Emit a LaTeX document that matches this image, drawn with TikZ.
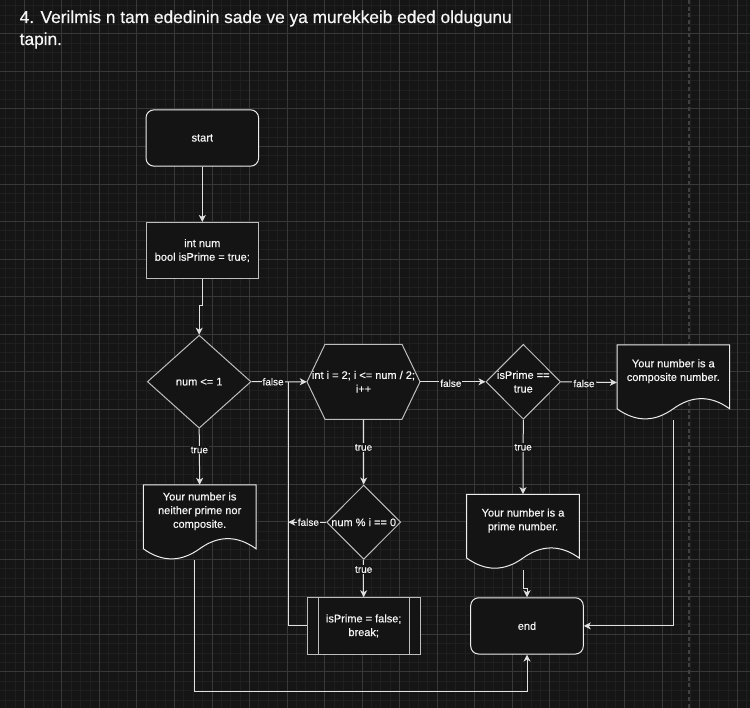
\documentclass[tikz,border=0pt]{standalone}
\usepackage{fontspec}
\setmainfont{Liberation Sans}
\newfontfamily\heavyish[FakeBold=0.45]{Liberation Sans}
\usetikzlibrary{arrows.meta,shapes.geometric,calc}
\definecolor{bg}{HTML}{151515}
\definecolor{minorgrid}{HTML}{1F1F1F}
\definecolor{majorgrid}{HTML}{383838}
\definecolor{dashcol}{HTML}{404040}
\definecolor{shapefill}{HTML}{141414}
\definecolor{strokeW}{HTML}{EDEDED}
\definecolor{strokeG}{HTML}{BDBDBD}
\definecolor{edgecol}{HTML}{E0E0E0}
\definecolor{txt}{HTML}{F6F6F6}
\newcommand\nodefont{\heavyish\fontsize{11}{13.7}\selectfont}
\newcommand\edgefont{\heavyish\fontsize{10}{12}\selectfont}
% document outline: x y w h (pixel units, y downward)
\newcommand\docoutline[4]{%
  \draw[docline] (#1,#2) -- ({#1+#3},#2) -- ({#1+#3},{#2+0.85*#4})
    .. controls ({#1+0.8333*#3},{#2+0.67*#4}) and ({#1+0.6667*#3},{#2+0.67*#4}) .. ({#1+0.5*#3},{#2+0.85*#4})
    .. controls ({#1+0.3333*#3},{#2+1.03*#4}) and ({#1+0.1667*#3},{#2+1.03*#4}) .. (#1,{#2+0.85*#4})
    -- cycle;}
\begin{document}
\begin{tikzpicture}[x=1pt,y=-1pt,
  shapebase/.style={fill=shapefill, line width=1pt, text=txt, font=\nodefont, align=center, inner sep=0pt},
  term/.style={shapebase, draw=strokeW, rounded corners=8pt, minimum width=112.6pt, minimum height=56.3pt},
  procbox/.style={shapebase, draw=strokeG, minimum width=112.6pt, minimum height=56.3pt},
  dec/.style={shapebase, draw=strokeG, diamond, aspect=1},
  hexline/.style={fill=shapefill, draw=strokeG, line width=1pt, line join=miter},
  docline/.style={fill=shapefill, draw=strokeW, line width=1pt},
  boxonly/.style={draw=none, fill=none, inner sep=0pt, minimum width=112.6pt, minimum height=75pt},
  inlabel/.style={text=txt, font=\nodefont, align=center, inner sep=0pt},
  edge/.style={draw=edgecol, line width=1pt, -{Stealth[length=7pt,width=7pt,inset=2pt]}},
  plainedge/.style={draw=edgecol, line width=1pt},
  elabel/.style={fill=bg, text=txt, font=\edgefont, inner sep=1pt},
  titletext/.style={text=txt, font=\heavyish\fontsize{17.3}{21}\selectfont, inner sep=0pt}
]
\useasboundingbox (0,0) rectangle (750,708);
\fill[bg] (0,0) rectangle (750,708);
\begin{scope}
\clip (0,0) rectangle (750,708);
\foreach \i in {-3,...,80} \draw[minorgrid, line width=0.8pt] ({24.3+\i*9.3825},0) -- ({24.3+\i*9.3825},708);
\foreach \i in {-4,...,76} \draw[minorgrid, line width=0.8pt] (0,{33.8+\i*9.3825}) -- (750,{33.8+\i*9.3825});
\foreach \i in {-1,...,20} \draw[majorgrid, line width=0.8pt] ({24.3+\i*37.53},0) -- ({24.3+\i*37.53},708);
\foreach \i in {-1,...,19} \draw[majorgrid, line width=0.8pt] (0,{33.8+\i*37.53}) -- (750,{33.8+\i*37.53});
\draw[dashcol, line width=1.2pt, dash pattern=on 4pt off 2.7pt] (689,0) -- (689,708);
\end{scope}

% title
\node[titletext, anchor=base west] (title1) at (19.5,23) {4. Verilmis n tam ededinin sade ve ya murekkeib eded oldugunu};
\node[titletext, anchor=base west] (title2) at (19.5,45) {tapin.};

% shapes
\node[term] (start) at (202.3,138) {start};
\node[procbox] (init) at (202.3,250.6) {int num\\bool isPrime = true;};
\node[dec, minimum width=103.7pt, minimum height=93pt, label={[inlabel]center:num <= 1}] (d1) at (199.2,381.7) {};

\draw[hexline] (307,381.8) -- (325,344.3) -- (402,344.3) -- (420,381.8) -- (402,419.3) -- (325,419.3) -- cycle;
\node[boxonly, minimum width=113pt, minimum height=75pt, label={[inlabel]center:int i = 2; i <= num / 2;\\i++}] (hex) at (363.5,381.8) {};

\node[dec, minimum width=74.7pt, minimum height=75pt, label={[inlabel]center:isPrime ==\\true}] (d2) at (523.3,381.8) {};

\docoutline{617}{345}{112.6}{75}
\node[boxonly, label={[inlabel, yshift=11.25pt]center:Your number is a\\composite number.}] (comp) at (673.3,382.5) {};

\docoutline{143.3}{485}{112.7}{75}
\node[boxonly, minimum width=112.7pt, label={[inlabel, yshift=11.25pt]center:Your number is\\neither prime nor\\composite.}] (neither) at (199.65,522.5) {};

\node[dec, minimum width=74pt, minimum height=74.3pt, label={[inlabel]center:num \% i == 0}] (d3) at (363.7,522.2) {};

\docoutline{466.7}{494.3}{112.6}{75}
\node[boxonly, label={[inlabel, yshift=11.25pt]center:Your number is a\\prime number.}] (prime) at (523,531.8) {};

\node[procbox] (proc) at (363.7,625.9) {isPrime = false;\\break;};
\draw[strokeG, line width=1pt] ([xshift=11.3pt]proc.north west) -- ([xshift=11.3pt]proc.south west);
\draw[strokeG, line width=1pt] ([xshift=-11.3pt]proc.north east) -- ([xshift=-11.3pt]proc.south east);

\node[term] (end) at (527,625.9) {end};

% connectors
\coordinate (jn) at (288.3,381.8);
\draw[edge] (start) -- (init);
\draw[edge] (init.south) |- ($(d1.north)+(3.1,-29)$) -| (d1.north);
\draw[edge] (d1.east) -- node[elabel, pos=0.39] {false} (hex.west);
\draw[edge] (d1.south) -- node[elabel, pos=0.38] {true} (neither.north);
\draw[edge] (hex.east) -- node[elabel, pos=0.47, yshift=-1.5pt] {false} (d2.west);
\draw[edge] (d2.east) -- node[elabel, pos=0.41, yshift=-1.5pt] {false} (comp.west);
\draw[edge] (d2.south) -- node[elabel, pos=0.37] {true} (prime.north);
\draw[edge] (hex.south) -- node[elabel, pos=0.43] {true} (d3.north);
\draw[edge] (d3.west) -- node[elabel, pos=0.47] {false} (jn |- d3.west);
\draw[edge] (d3.south) -- node[elabel, pos=0.26] {true} (proc.north);
\draw[plainedge] (proc.west) -| (jn);
\draw[edge] (comp.south) |- (end.east);
\draw[edge] (prime.south) -- ++(0,19) -| (end.north);
\draw[edge] ($(neither.south)+(-5.3,0)$) |- ($(end.south)+(0,37)$) -- (end.south);
\end{tikzpicture}
\end{document}
